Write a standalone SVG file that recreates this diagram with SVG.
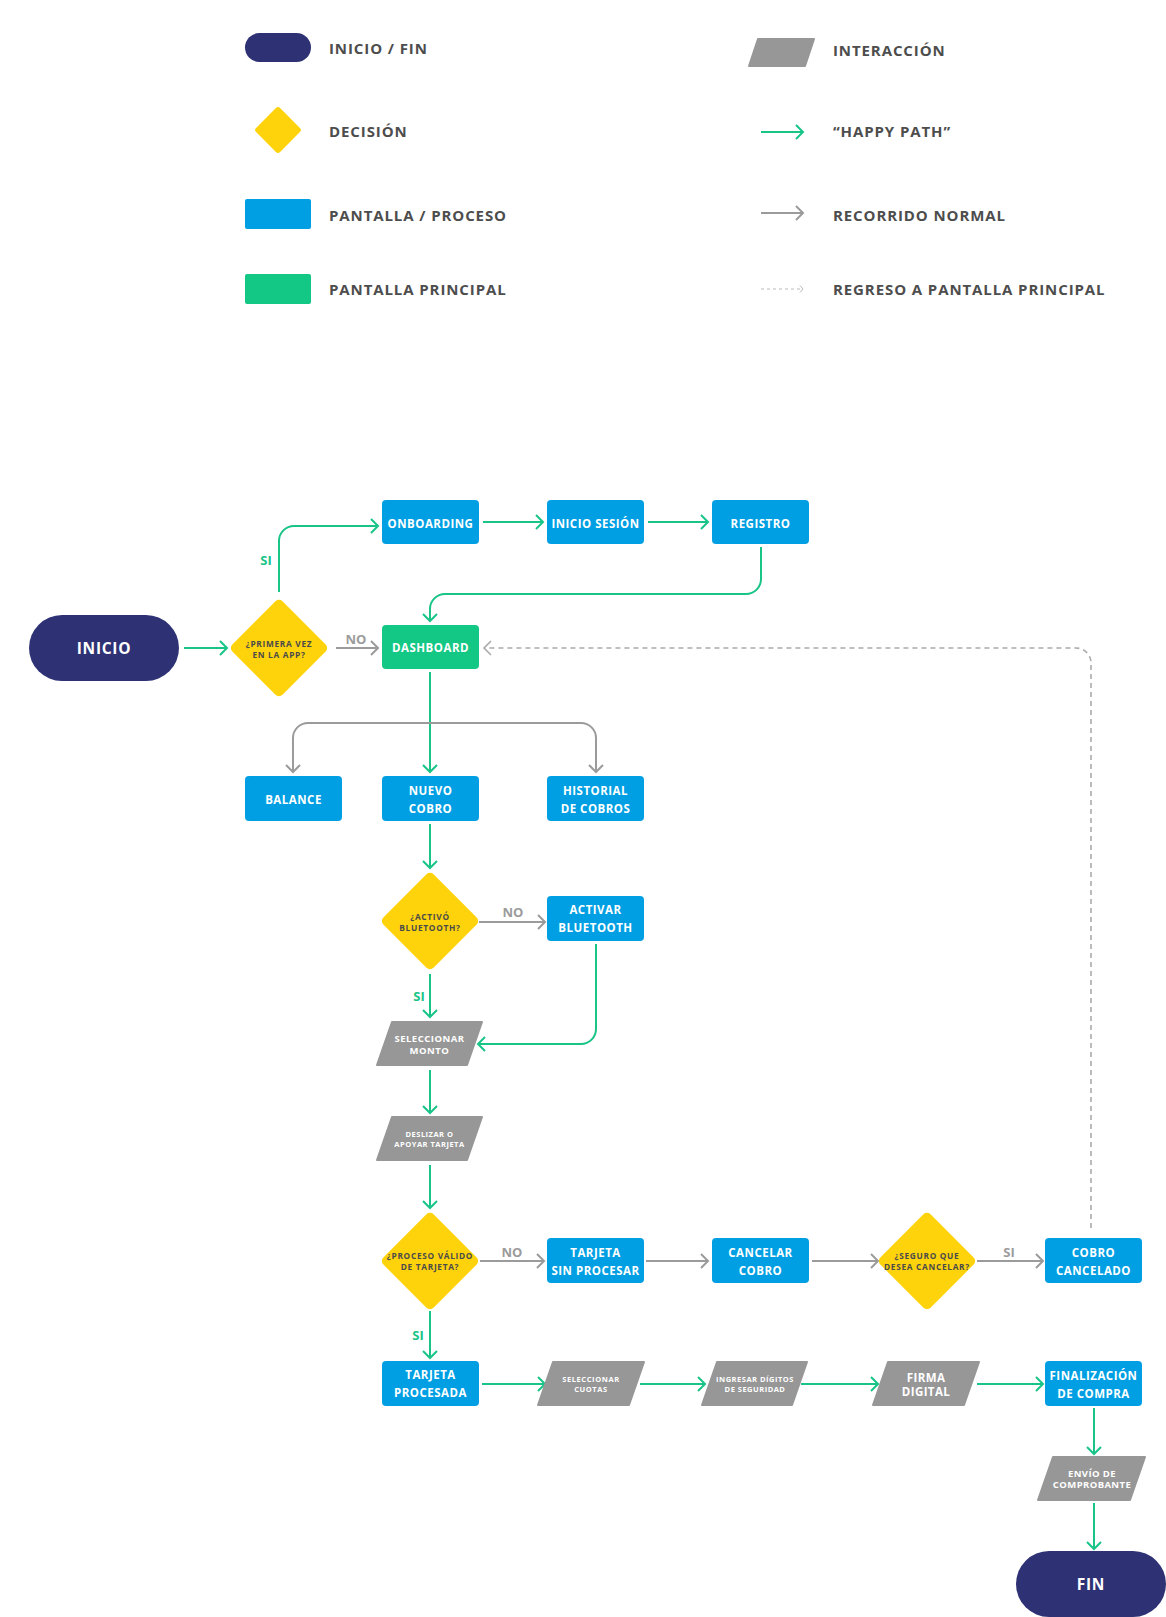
<svg xmlns="http://www.w3.org/2000/svg" width="1166" height="1617" viewBox="0 0 1166 1617">
<defs>
<style>
text{font-family:"Open Sans","DejaVu Sans",sans-serif;font-weight:700}
.lg{font-size:15px;fill:#4d4d4d;letter-spacing:0.9px}
.bx{font-size:11.5px;fill:#fff;letter-spacing:0.5px;text-anchor:middle}
.pill{font-size:15.5px;fill:#fff;letter-spacing:0.7px;text-anchor:middle}
.dt{font-size:8.3px;fill:#4a4a4a;letter-spacing:0.7px;text-anchor:middle}
.pt{fill:#fff;text-anchor:middle}
.lbg{font-size:13px;fill:#19c487;text-anchor:middle}
.lbn{font-size:13px;fill:#9b9b9b;text-anchor:middle}
.blue{fill:#009fe3}
.green{fill:#13c784}
.navy{fill:#2e3174}
.yel{fill:#ffd30b}
.par{fill:#979797;stroke:#979797;stroke-width:2;stroke-linejoin:round}
.cg{fill:none;stroke:#19c487;stroke-width:2;marker-end:url(#ag)}
.cn{fill:none;stroke:#9b9b9b;stroke-width:2;marker-end:url(#an)}
.cd{fill:none;stroke:#aaaaaa;stroke-width:1.6;stroke-dasharray:5,4;marker-end:url(#ad)}
</style>
<marker id="ag" markerUnits="userSpaceOnUse" viewBox="-9 -9 11 18" refX="0" refY="0" markerWidth="11" markerHeight="18" orient="auto"><path d="M-7,-7 L0,0 L-7,7" fill="none" stroke="#19c487" stroke-width="2"/></marker>
<marker id="an" markerUnits="userSpaceOnUse" viewBox="-9 -9 11 18" refX="0" refY="0" markerWidth="11" markerHeight="18" orient="auto"><path d="M-7,-7 L0,0 L-7,7" fill="none" stroke="#9b9b9b" stroke-width="2"/></marker>
<marker id="ad" markerUnits="userSpaceOnUse" viewBox="-9 -9 11 18" refX="0" refY="0" markerWidth="11" markerHeight="18" orient="auto"><path d="M-7,-7 L0,0 L-7,7" fill="none" stroke="#aaaaaa" stroke-width="1.6"/></marker>
<marker id="adl" markerUnits="userSpaceOnUse" viewBox="-6 -6 8 12" refX="0" refY="0" markerWidth="8" markerHeight="12" orient="auto"><path d="M-3,-3.5 L0,0 L-3,3.5" fill="none" stroke="#bbbbbb" stroke-width="1"/></marker>
</defs>
<rect width="1166" height="1617" fill="#fff"/>

<g id="legend">
<rect class="navy" x="245" y="33" width="66" height="29" rx="14.5"/>
<text class="lg" x="329" y="54">INICIO / FIN</text>
<rect class="yel" x="261" y="113" width="34" height="34" rx="3" transform="rotate(45 278 130)"/>
<text class="lg" x="329" y="137">DECISIÓN</text>
<rect class="blue" x="245" y="199" width="66" height="30" rx="2"/>
<text class="lg" x="329" y="221">PANTALLA / PROCESO</text>
<rect class="green" x="245" y="274" width="66" height="30" rx="2"/>
<text class="lg" x="329" y="295">PANTALLA PRINCIPAL</text>
<polygon class="par" points="758,39 814,39 805,66 749,66"/>
<text class="lg" x="833" y="56">INTERACCIÓN</text>
<path d="M761,132 H803" fill="none" stroke="#19c487" stroke-width="2" marker-end="url(#ag)"/>
<text class="lg" x="833" y="137">“HAPPY PATH”</text>
<path d="M761,213 H803" fill="none" stroke="#9b9b9b" stroke-width="2" marker-end="url(#an)"/>
<text class="lg" x="833" y="221">RECORRIDO NORMAL</text>
<path d="M761,289 H803" fill="none" stroke="#bbbbbb" stroke-width="1" stroke-dasharray="3,3" marker-end="url(#adl)"/>
<text class="lg" x="833" y="295">REGRESO A PANTALLA PRINCIPAL</text>
</g>

<g id="connectors">
<path class="cg" d="M184,648 H227"/>
<path class="cg" d="M279,592 V541 A15,15 0 0 1 294,526 H378"/>
<path class="cg" d="M483,522 H543"/>
<path class="cg" d="M648,522 H708"/>
<path class="cg" d="M761,547 V579 A15,15 0 0 1 746,594 H445 A15,15 0 0 0 430,609 V621"/>
<path class="cg" d="M430,672 V772"/>
<path class="cg" d="M430,824 V868"/>
<path class="cg" d="M430,974 V1017"/>
<path class="cg" d="M596,944 V1029 A15,15 0 0 1 581,1044 H478"/>
<path class="cg" d="M430,1070 V1113"/>
<path class="cg" d="M430,1165 V1208"/>
<path class="cg" d="M430,1311 V1358"/>
<path class="cg" d="M482,1384 H545"/>
<path class="cg" d="M640,1384 H705"/>
<path class="cg" d="M801,1384 H878"/>
<path class="cg" d="M977,1384 H1043"/>
<path class="cg" d="M1094,1408 V1454"/>
<path class="cg" d="M1094,1503 V1549"/>
<path class="cn" d="M336,648 H378"/>
<path class="cn" d="M430,723 H308 A15,15 0 0 0 293,738 V772"/>
<path class="cn" d="M430,723 H581 A15,15 0 0 1 596,738 V772"/>
<path class="cn" d="M479,922 H545"/>
<path class="cn" d="M480,1261 H544"/>
<path class="cn" d="M646,1261 H708"/>
<path class="cn" d="M812,1261 H878"/>
<path class="cn" d="M977,1261 H1043"/>
<path class="cd" d="M1091,1228 V664 A15,15 0 0 0 1076,648 H484"/>
<text class="lbg" x="266" y="565">SI</text>
<text class="lbn" x="356" y="644">NO</text>
<text class="lbn" x="513" y="917">NO</text>
<text class="lbg" x="419" y="1001">SI</text>
<text class="lbn" x="512" y="1257">NO</text>
<text class="lbg" x="418" y="1340">SI</text>
<text class="lbn" x="1009" y="1257">SI</text>
</g>

<g id="inicio"><rect class="navy" x="29" y="615" width="150" height="66" rx="33"/><text class="pill" x="104" y="654">INICIO</text></g>
<g id="d-primera"><rect class="yel" x="243.5" y="612.5" width="71" height="71" rx="5" transform="rotate(45 279 648)"/><text class="dt" x="279" y="647">¿PRIMERA VEZ</text><text class="dt" x="279" y="658">EN LA APP?</text></g>
<g id="onboarding"><rect class="blue" x="382" y="500" width="97" height="44" rx="4"/><text class="bx" x="430.5" y="527.5">ONBOARDING</text></g>
<g id="inicio-sesion"><rect class="blue" x="547" y="500" width="97" height="44" rx="4"/><text class="bx" x="595.5" y="527.5">INICIO SESIÓN</text></g>
<g id="registro"><rect class="blue" x="712" y="500" width="97" height="44" rx="4"/><text class="bx" x="760.5" y="527.5">REGISTRO</text></g>
<g id="dashboard"><rect class="green" x="382" y="625" width="97" height="44" rx="4"/><text class="bx" x="430.5" y="652">DASHBOARD</text></g>
<g id="balance"><rect class="blue" x="245" y="776" width="97" height="45" rx="4"/><text class="bx" x="293.5" y="803.5">BALANCE</text></g>
<g id="nuevo-cobro"><rect class="blue" x="382" y="776" width="97" height="45" rx="4"/><text class="bx" x="430.5" y="795">NUEVO</text><text class="bx" x="430.5" y="813">COBRO</text></g>
<g id="historial"><rect class="blue" x="547" y="776" width="97" height="45" rx="4"/><text class="bx" x="595.5" y="795">HISTORIAL</text><text class="bx" x="595.5" y="813">DE COBROS</text></g>
<g id="d-bluetooth"><rect class="yel" x="394.5" y="885.5" width="71" height="71" rx="5" transform="rotate(45 430 921)"/><text class="dt" x="430" y="920">¿ACTIVÓ</text><text class="dt" x="430" y="931">BLUETOOTH?</text></g>
<g id="activar-bluetooth"><rect class="blue" x="547" y="896" width="97" height="45" rx="4"/><text class="bx" x="595.5" y="914">ACTIVAR</text><text class="bx" x="595.5" y="932">BLUETOOTH</text></g>
<g id="seleccionar-monto"><polygon class="par" points="392,1022 482,1022 467,1065 377,1065"/><text class="pt" x="429.5" y="1042" font-size="9.5" letter-spacing="0.5">SELECCIONAR</text><text class="pt" x="429.5" y="1054" font-size="9.5" letter-spacing="0.5">MONTO</text></g>
<g id="deslizar"><polygon class="par" points="392,1117 482,1117 467,1160 377,1160"/><text class="pt" x="429.5" y="1136.5" font-size="7.5" letter-spacing="0.5">DESLIZAR O</text><text class="pt" x="429.5" y="1146.5" font-size="7.5" letter-spacing="0.5">APOYAR TARJETA</text></g>
<g id="d-proceso"><rect class="yel" x="394.5" y="1225.5" width="71" height="71" rx="5" transform="rotate(45 430 1261)"/><text class="dt" x="430" y="1258.5" letter-spacing="0.4">¿PROCESO VÁLIDO</text><text class="dt" x="430" y="1269.5">DE TARJETA?</text></g>
<g id="tarjeta-sin-procesar"><rect class="blue" x="547" y="1238" width="97" height="45" rx="4"/><text class="bx" x="595.5" y="1257">TARJETA</text><text class="bx" x="595.5" y="1275">SIN PROCESAR</text></g>
<g id="cancelar-cobro"><rect class="blue" x="712" y="1238" width="97" height="45" rx="4"/><text class="bx" x="760.5" y="1257">CANCELAR</text><text class="bx" x="760.5" y="1275">COBRO</text></g>
<g id="d-seguro"><rect class="yel" x="891.5" y="1225.5" width="71" height="71" rx="5" transform="rotate(45 927 1261)"/><text class="dt" x="927" y="1258.5" letter-spacing="0.4">¿SEGURO QUE</text><text class="dt" x="927" y="1269.5" letter-spacing="0.4">DESEA CANCELAR?</text></g>
<g id="cobro-cancelado"><rect class="blue" x="1045" y="1238" width="97" height="45" rx="4"/><text class="bx" x="1093.5" y="1257">COBRO</text><text class="bx" x="1093.5" y="1275">CANCELADO</text></g>
<g id="tarjeta-procesada"><rect class="blue" x="382" y="1361" width="97" height="45" rx="4"/><text class="bx" x="430.5" y="1379">TARJETA</text><text class="bx" x="430.5" y="1397">PROCESADA</text></g>
<g id="seleccionar-cuotas"><polygon class="par" points="553,1362 644,1362 629,1405 538,1405"/><text class="pt" x="591" y="1381.5" font-size="7.5" letter-spacing="0.6">SELECCIONAR</text><text class="pt" x="591" y="1391.5" font-size="7.5" letter-spacing="0.6">CUOTAS</text></g>
<g id="ingresar-digitos"><polygon class="par" points="717,1362 807,1362 792,1405 702,1405"/><text class="pt" x="755" y="1381.5" font-size="7.5" letter-spacing="0.5">INGRESAR DÍGITOS</text><text class="pt" x="755" y="1391.5" font-size="7.5" letter-spacing="0.5">DE SEGURIDAD</text></g>
<g id="firma-digital"><polygon class="par" points="888,1362 979,1362 964,1405 873,1405"/><text class="pt" x="926" y="1381.5" font-size="11.5" letter-spacing="0.4">FIRMA</text><text class="pt" x="926" y="1395.5" font-size="11.5" letter-spacing="0.4">DIGITAL</text></g>
<g id="finalizacion"><rect class="blue" x="1045" y="1361" width="97" height="45" rx="4"/><text class="bx" x="1093.5" y="1380">FINALIZACIÓN</text><text class="bx" x="1093.5" y="1398">DE COMPRA</text></g>
<g id="envio-comprobante"><polygon class="par" points="1053,1457 1145,1457 1130,1500 1038,1500"/><text class="pt" x="1092" y="1477" font-size="9.5" letter-spacing="0.4">ENVÍO DE</text><text class="pt" x="1092" y="1488" font-size="9.5" letter-spacing="0.4">COMPROBANTE</text></g>
<g id="fin"><rect class="navy" x="1016" y="1551" width="150" height="66" rx="33"/><text class="pill" x="1091" y="1590">FIN</text></g>
</svg>
